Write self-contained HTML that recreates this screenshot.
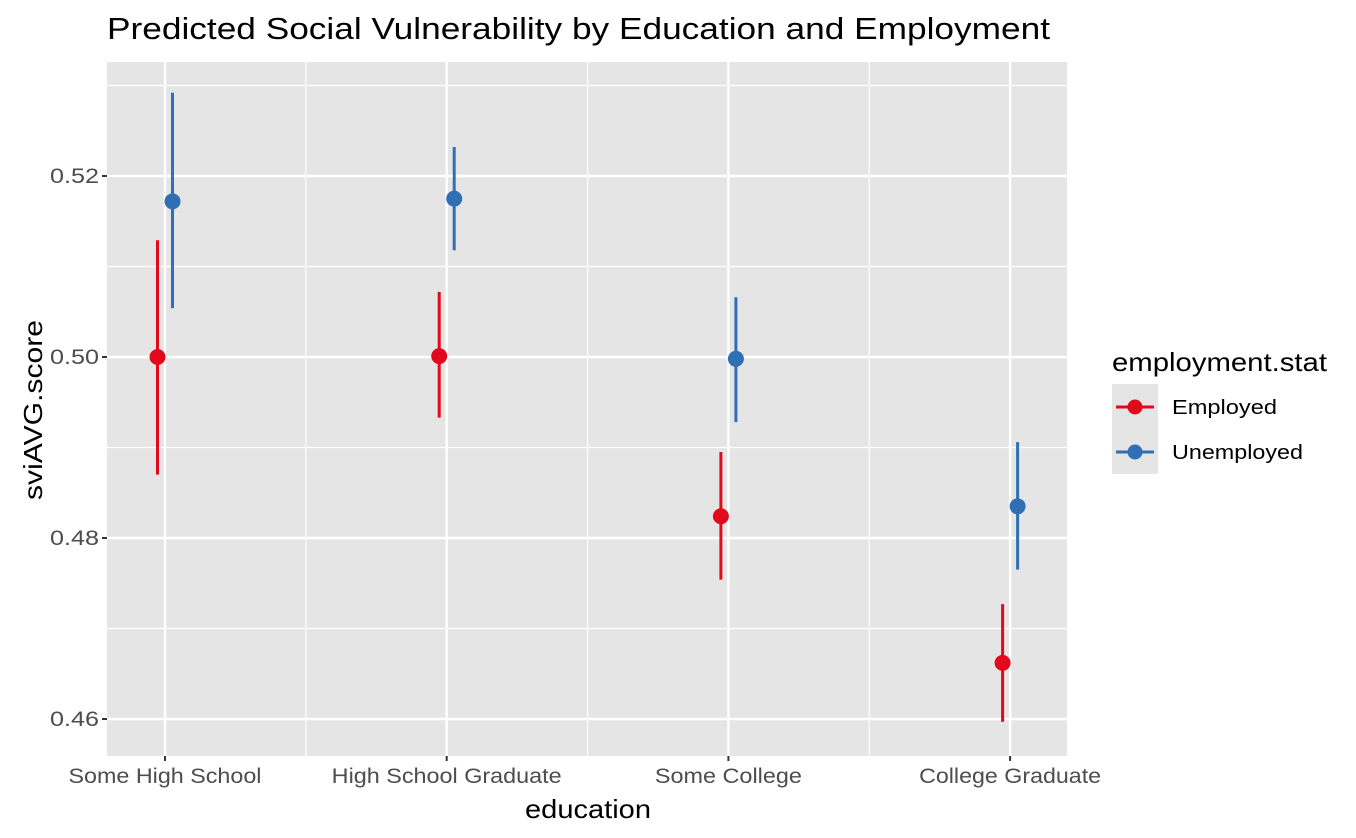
<!DOCTYPE html>
<html><head><meta charset="utf-8"><style>
body{margin:0;background:#fff;}
svg{display:block;font-family:"Liberation Sans",Arial,sans-serif;}
</style></head><body>
<svg id="chart" width="1356" height="838" xmlns="http://www.w3.org/2000/svg">
<text x="107" y="39" font-size="31" fill="#000" textLength="943" lengthAdjust="spacingAndGlyphs">Predicted Social Vulnerability by Education and Employment</text>
<rect x="107" y="62" width="960" height="694" fill="#e5e5e5"/>
<g id="grid"></g>
<g id="marks"></g>
<g id="axes"></g>
<text x="588" y="818" font-size="26" text-anchor="middle" textLength="126" lengthAdjust="spacingAndGlyphs">education</text>
<text transform="translate(42,410) rotate(-90)" font-size="26" text-anchor="middle" textLength="180" lengthAdjust="spacingAndGlyphs">sviAVG.score</text>
<g>
<text x="1112" y="371" font-size="26" textLength="215" lengthAdjust="spacingAndGlyphs">employment.stat</text>
<rect x="1112" y="384" width="46" height="90" fill="#e5e5e5"/>
<g>
<line x1="1116" x2="1154" y1="407" y2="407" stroke="#E3091D" stroke-width="3"/>
<circle cx="1135" cy="407" r="7.5" fill="#E3091D"/>
<text x="1172" y="414" font-size="20" textLength="105" lengthAdjust="spacingAndGlyphs">Employed</text></g>
<g>
<line x1="1116" x2="1154" y1="452" y2="452" stroke="#316FB4" stroke-width="3"/>
<circle cx="1135" cy="452" r="7.5" fill="#316FB4"/>
<text x="1172" y="459" font-size="20" textLength="131" lengthAdjust="spacingAndGlyphs">Unemployed</text></g>
</g>
</svg>
<script>
const categories=["Some High School","High School Graduate","Some College","College Graduate"];
const empMean=[0.5000,0.5001,0.4824,0.4662];
const empLow=[0.4870,0.4933,0.4754,0.4597];
const empHigh=[0.5129,0.5072,0.4895,0.4727];
const unempMean=[0.5172,0.5175,0.4998,0.4835];
const unempLow=[0.5054,0.5118,0.4928,0.4765];
const unempHigh=[0.5292,0.5232,0.5066,0.4906];
const yTicks=[0.46,0.48,0.50,0.52];
const yTickLabels=["0.46","0.48","0.50","0.52"];

const NS="http://www.w3.org/2000/svg";
const px0=107,px1=1067,py0=62,py1=756;
function y(v){return 357-(v-0.50)*9050;}
function x(i){return 165+i*281.7;}
function mk(tag,attrs,parent){const e=document.createElementNS(NS,tag);for(const k in attrs)e.setAttribute(k,attrs[k]);parent.appendChild(e);return e;}
const grid=document.getElementById('grid'),marks=document.getElementById('marks'),axes=document.getElementById('axes');
for(let i=0;i<yTicks.length-1;i++){const v=(yTicks[i]+yTicks[i+1])/2;
 const l=mk('line',{x1:px0,x2:px1,y1:y(v),y2:y(v),stroke:'#fff','stroke-width':1.2},grid);
 
 }
{const v=yTicks[yTicks.length-1]+0.01;const l=mk('line',{x1:px0,x2:px1,y1:y(v),y2:y(v),stroke:'#fff','stroke-width':1.2},grid);
 
 }
for(let i=0;i<categories.length-1;i++){const xv=(x(i)+x(i+1))/2;
 const l=mk('line',{x1:xv,x2:xv,y1:py0,y2:py1,stroke:'#fff','stroke-width':1.2},grid);
 
 }
yTicks.forEach((v,i)=>{
 const l=mk('line',{x1:px0,x2:px1,y1:y(v),y2:y(v),stroke:'#fff','stroke-width':2.4},grid);
 
 
 const t=mk('line',{x1:px0-5,x2:px0,y1:y(v),y2:y(v),stroke:'#333','stroke-width':2},axes);
 
 
 const tx=mk('text',{x:px0-8,y:y(v)+7,'font-size':21,fill:'#4d4d4d','text-anchor':'end',textLength:49,lengthAdjust:'spacingAndGlyphs'},axes);
 tx.textContent=yTickLabels[i];
 
 
});
const xLabelWidths=[193,230,147,182];
categories.forEach((c,i)=>{
 const l=mk('line',{x1:x(i),x2:x(i),y1:py0,y2:py1,stroke:'#fff','stroke-width':2.4},grid);
 
 
 const t=mk('line',{x1:x(i),x2:x(i),y1:py1,y2:py1+5,stroke:'#333','stroke-width':2},axes);
 
 
 const tx=mk('text',{x:x(i),y:783,'font-size':21,fill:'#4d4d4d','text-anchor':'middle',textLength:xLabelWidths[i],lengthAdjust:'spacingAndGlyphs'},axes);
 tx.textContent=c;
 
 
});
function series(mean,lo,hi,dx,color,name){
 mean.forEach((m,i)=>{
  const cx=x(i)+dx;
  const l=mk('line',{x1:cx,x2:cx,y1:y(lo[i]),y2:y(hi[i]),stroke:color,'stroke-width':3},marks);
  
  
  const p=mk('circle',{cx:cx,cy:y(m),r:8,fill:color},marks);
  
  
 });
}
series(empMean,empLow,empHigh,-7.5,'#E3091D','employed');
series(unempMean,unempLow,unempHigh,7.5,'#316FB4','unemployed');
</script>
</body></html>
